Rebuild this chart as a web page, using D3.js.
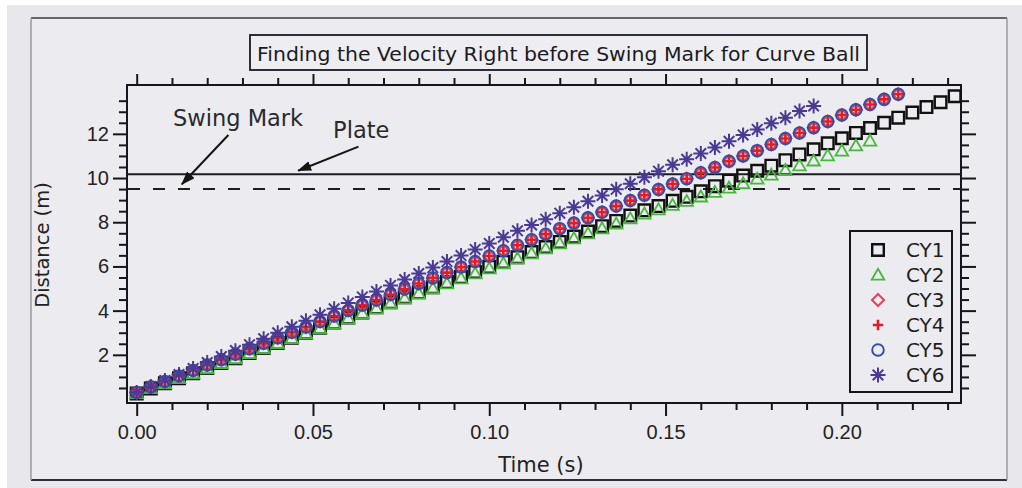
<!DOCTYPE html>
<html>
<head>
<meta charset="utf-8">
<script src="https://cdn.jsdelivr.net/npm/d3@7"></script>
<style>
  html, body { margin: 0; padding: 0; background: #ffffff; }
  svg { display: block; }
</style>
</head>
<body>
<script>
// sample times (s), one frame every 4 ms
const times = [0.000, 0.004, 0.008, 0.012, 0.016, 0.020, 0.024, 0.028, 0.032, 0.036,
               0.040, 0.044, 0.048, 0.052, 0.056, 0.060, 0.064, 0.068, 0.072, 0.076,
               0.080, 0.084, 0.088, 0.092, 0.096, 0.100, 0.104, 0.108, 0.112, 0.116,
               0.120, 0.124, 0.128, 0.132, 0.136, 0.140, 0.144, 0.148, 0.152, 0.156,
               0.160, 0.164, 0.168, 0.172, 0.176, 0.180, 0.184, 0.188, 0.192, 0.196,
               0.200, 0.204, 0.208, 0.212, 0.216, 0.220, 0.224, 0.228, 0.232];

// distances (m), one value per frame
const cy1 = [0.25, 0.48, 0.71, 0.94, 1.17, 1.40, 1.63, 1.85, 2.08, 2.31,
             2.54, 2.77, 3.00, 3.23, 3.46, 3.69, 3.92, 4.15, 4.38, 4.61,
             4.83, 5.06, 5.29, 5.52, 5.75, 5.98, 6.21, 6.42, 6.65, 6.88,
             7.11, 7.35, 7.58, 7.82, 8.06, 8.30, 8.54, 8.73, 8.97, 9.15,
             9.40, 9.63, 9.88, 10.11, 10.33, 10.56, 10.81, 11.07, 11.30, 11.57,
             11.80, 12.04, 12.26, 12.50, 12.73, 12.96, 13.21, 13.43, 13.70];
const cy2 = [0.25, 0.48, 0.70, 0.93, 1.15, 1.38, 1.61, 1.83, 2.06, 2.28,
             2.51, 2.74, 2.96, 3.19, 3.41, 3.64, 3.87, 4.09, 4.32, 4.54,
             4.77, 5.00, 5.22, 5.45, 5.67, 5.90, 6.13, 6.35, 6.58, 6.80,
             7.03, 7.26, 7.48, 7.71, 7.93, 8.16, 8.38, 8.57, 8.77, 8.95,
             9.15, 9.36, 9.55, 9.75, 9.96, 10.14, 10.35, 10.56, 10.78, 11.01,
             11.23, 11.46, 11.68];
const cy3 = [0.30, 0.55, 0.79, 1.04, 1.29, 1.54, 1.78, 2.03, 2.28, 2.52,
             2.77, 3.02, 3.26, 3.51, 3.76, 4.01, 4.25, 4.48, 4.73, 4.98,
             5.23, 5.48, 5.72, 5.97, 6.22, 6.47, 6.71, 6.96, 7.21, 7.46,
             7.71, 7.96, 8.20, 8.45, 8.73, 8.98, 9.22, 9.48, 9.73, 9.97,
             10.24, 10.48, 10.76, 11.00, 11.24, 11.52, 11.79, 12.04, 12.28, 12.56,
             12.85, 13.09, 13.33, 13.56, 13.79];
const cy4 = [0.30, 0.55, 0.79, 1.04, 1.29, 1.54, 1.78, 2.03, 2.28, 2.52,
             2.77, 3.02, 3.26, 3.51, 3.76, 4.01, 4.25, 4.48, 4.73, 4.98,
             5.23, 5.48, 5.72, 5.97, 6.22, 6.47, 6.71, 6.96, 7.21, 7.46,
             7.71, 7.96, 8.20, 8.45, 8.73, 8.98, 9.22, 9.48, 9.73, 9.97,
             10.24, 10.48, 10.76, 11.00, 11.24, 11.52, 11.79, 12.04, 12.28, 12.56,
             12.85, 13.09, 13.33, 13.56, 13.79];
const cy5 = [0.30, 0.55, 0.79, 1.04, 1.29, 1.54, 1.78, 2.03, 2.28, 2.52,
             2.77, 3.02, 3.26, 3.51, 3.76, 4.01, 4.25, 4.48, 4.73, 4.98,
             5.23, 5.48, 5.72, 5.97, 6.22, 6.47, 6.71, 6.96, 7.21, 7.46,
             7.71, 7.96, 8.20, 8.45, 8.73, 8.98, 9.22, 9.48, 9.73, 9.97,
             10.24, 10.48, 10.76, 11.00, 11.24, 11.52, 11.79, 12.04, 12.28, 12.56,
             12.85, 13.09, 13.33, 13.56, 13.79];
const cy6 = [0.30, 0.57, 0.84, 1.11, 1.38, 1.65, 1.92, 2.19, 2.46, 2.73,
             3.00, 3.27, 3.54, 3.81, 4.08, 4.35, 4.62, 4.87, 5.14, 5.41,
             5.68, 5.95, 6.22, 6.49, 6.77, 7.04, 7.32, 7.61, 7.88, 8.14,
             8.41, 8.68, 8.95, 9.21, 9.49, 9.74, 10.03, 10.31, 10.60, 10.85,
             11.11, 11.38, 11.66, 11.95, 12.20, 12.48, 12.73, 13.03, 13.26];

const seriesNames = ["CY1", "CY2", "CY3", "CY4", "CY5", "CY6"];
const seriesValues = [cy1, cy2, cy3, cy4, cy5, cy6];

// reference lines (m)
const plateDistance = 10.17;
const swingMarkDistance = 9.50;

const xMajorTicks = [0.00, 0.05, 0.10, 0.15, 0.20];
const yMajorTicks = [2, 4, 6, 8, 10, 12];

const W = 1022, H = 488;
const plot = {left: 127, right: 961, top: 85, bottom: 403};

// marker looks per series
const markerStyle = [
    {shape: "square",   color: "#111111", width: 2.4},
    {shape: "triangle", color: "#47b83c", width: 1.8},
    {shape: "diamond",  color: "#e2405e", width: 2.0},
    {shape: "plus",     color: "#e01e28", width: 2.6},
    {shape: "circle",   color: "#2f4fa8", width: 1.9},
    {shape: "asterisk", color: "#4a3a94", width: 2.0}
];

function markerPath(shape) {
    switch (shape) {
        case "square": return "M-5.8,-5.8H5.8V5.8H-5.8Z";
        case "triangle": return "M0,-6.3L6.3,4.7H-6.3Z";
        case "diamond": return "M0,-6L6,0L0,6L-6,0Z";
        case "plus": return "M-5.2,0H5.2M0,-5.2V5.2";
        case "circle": return "M5.8,0A5.8,5.8 0 1,1 -5.8,0A5.8,5.8 0 1,1 5.8,0Z";
        case "asterisk": return "M0,-7.5V7.5M-7.5,0H7.5M-5.3,-5.3L5.3,5.3M-5.3,5.3L5.3,-5.3";
    }
}

const svg = d3.select("body").append("svg")
    .attr("width", W).attr("height", H)
    .style("font-family", "'DejaVu Sans', sans-serif");

// scanned page background and chart frame
svg.append("rect").attr("x", 7).attr("y", 5).attr("width", W - 7).attr("height", H - 5)
    .attr("fill", "#e8e8ec");
svg.append("rect").attr("x", 31).attr("y", 18).attr("width", 976).attr("height", 462)
    .attr("fill", "#ececf0");
const frame = svg.append("g").attr("class", "frame");
frame.append("line").attr("x1", 31).attr("x2", 1007).attr("y1", 18).attr("y2", 18)
    .attr("stroke", "#3a3a40").attr("stroke-width", 1.5);
frame.append("line").attr("x1", 31).attr("x2", 1007).attr("y1", 480).attr("y2", 480)
    .attr("stroke", "#2e2e36").attr("stroke-width", 2);
frame.append("line").attr("x1", 31).attr("x2", 31).attr("y1", 18).attr("y2", 480)
    .attr("stroke", "#9a9aa2").attr("stroke-width", 1.5);
frame.append("line").attr("x1", 1007).attr("x2", 1007).attr("y1", 18).attr("y2", 480)
    .attr("stroke", "#9a9aa2").attr("stroke-width", 1.5);

// scales
const x = d3.scaleLinear().domain([-0.00275, 0.2338]).range([plot.left, plot.right]);
const y = d3.scaleLinear().domain([-0.18, 14.21]).range([plot.bottom, plot.top]);

const xMinor = d3.range(0, 23.5, 1).map(v => v / 100).filter(v => !xMajorTicks.some(m => Math.abs(m - v) < 1e-9));
const yMinor = d3.range(1, 28, 1).map(v => v / 2).filter(v => !yMajorTicks.includes(v));

const fmtX = d3.format(".2f");

function drawAxis(axisFn, scale, values, size, transformPx, withLabels, fmt) {
    const a = axisFn(scale).tickValues(values).tickSize(size).tickPadding(6)
        .tickFormat(withLabels ? fmt : "");
    const g = svg.append("g").attr("transform", transformPx).call(a);
    g.select(".domain").remove();
    g.selectAll(".tick line").attr("stroke", "#15151c").attr("stroke-width", 2);
    g.selectAll(".tick text").attr("fill", "#222").style("font-size", "20px");
    return g;
}

// x axes (bottom labelled, top mirror)
drawAxis(d3.axisBottom, x, xMajorTicks, 13, `translate(0,${plot.bottom})`, true, fmtX)
    .selectAll(".tick text").attr("dy", "0.85em");
drawAxis(d3.axisBottom, x, xMinor, 7, `translate(0,${plot.bottom})`, false);
drawAxis(d3.axisTop, x, xMajorTicks, 11, `translate(0,${plot.top})`, false);
drawAxis(d3.axisTop, x, xMinor, 7, `translate(0,${plot.top})`, false);

// y axes (left labelled, right mirror)
drawAxis(d3.axisLeft, y, yMajorTicks, 14, `translate(${plot.left},0)`, true, d3.format("d"))
    .selectAll(".tick text").attr("x", -18);
drawAxis(d3.axisLeft, y, yMinor, 8, `translate(${plot.left},0)`, false);
drawAxis(d3.axisRight, y, yMajorTicks, 15, `translate(${plot.right},0)`, false);
drawAxis(d3.axisRight, y, yMinor, 8, `translate(${plot.right},0)`, false);

// plot border
svg.append("rect")
    .attr("x", plot.left).attr("y", plot.top)
    .attr("width", plot.right - plot.left).attr("height", plot.bottom - plot.top)
    .attr("fill", "none").attr("stroke", "#15151f").attr("stroke-width", 2);

// plate (solid) and swing mark (dashed)
svg.append("line")
    .attr("x1", plot.left).attr("x2", plot.right)
    .attr("y1", y(plateDistance)).attr("y2", y(plateDistance))
    .attr("stroke", "#1d1d22").attr("stroke-width", 2);
svg.append("line")
    .attr("x1", plot.left + 1).attr("x2", plot.right)
    .attr("y1", y(swingMarkDistance)).attr("y2", y(swingMarkDistance))
    .attr("stroke", "#1d1d22").attr("stroke-width", 2)
    .attr("stroke-dasharray", "12,13");

// data markers
const marks = svg.append("g").attr("class", "marks");
seriesValues.forEach((vals, si) => {
    const st = markerStyle[si];
    marks.append("g").attr("class", seriesNames[si])
        .selectAll("path").data(vals).enter()
        .append("path")
        .attr("transform", (d, i) => `translate(${x(times[i])},${y(d)})`)
        .attr("d", markerPath(st.shape))
        .attr("fill", "none")
        .attr("stroke", st.color)
        .attr("stroke-width", st.width);
});

// annotations (data units)
const defs = svg.append("defs");
defs.append("marker").attr("id", "arrowhead")
    .attr("viewBox", "0 0 14 10").attr("refX", 13).attr("refY", 5)
    .attr("markerWidth", 14).attr("markerHeight", 10)
    .attr("markerUnits", "userSpaceOnUse").attr("orient", "auto")
    .append("path").attr("d", "M0,0L14,5L0,10Z").attr("fill", "#151515");

const annotations = [
    {label: "Swing Mark", tx: 0.0103, ty: 12.34, from: [0.0260, 11.95], to: [0.0128, 9.72]},
    {label: "Plate", tx: 0.0557, ty: 11.81, from: [0.0629, 11.42], to: [0.0458, 10.33]}
];
annotations.forEach(a => {
    svg.append("text")
        .attr("x", x(a.tx)).attr("y", y(a.ty))
        .attr("fill", "#2a2a2e").style("font-size", "22.5px")
        .text(a.label);
    svg.append("line")
        .attr("x1", x(a.from[0])).attr("y1", y(a.from[1]))
        .attr("x2", x(a.to[0])).attr("y2", y(a.to[1]))
        .attr("stroke", "#151515").attr("stroke-width", 2)
        .attr("marker-end", "url(#arrowhead)");
});

// title box
svg.append("rect").attr("x", 250).attr("y", 35).attr("width", 617).attr("height", 35)
    .attr("fill", "#eeeef2").attr("stroke", "#1a1a22").attr("stroke-width", 1.8);
svg.append("text")
    .attr("x", 257).attr("y", 61)
    .attr("textLength", 603).attr("lengthAdjust", "spacingAndGlyphs")
    .attr("fill", "#1b1b1f").style("font-size", "20px")
    .text("Finding the Velocity Right before Swing Mark for Curve Ball");

// axis titles
svg.append("text")
    .attr("x", 541).attr("y", 472)
    .attr("text-anchor", "middle").attr("fill", "#222").style("font-size", "21px")
    .text("Time (s)");
svg.append("text")
    .attr("transform", "translate(42,245) rotate(-90)")
    .attr("text-anchor", "middle").attr("dy", "0.36em")
    .attr("fill", "#222").style("font-size", "19.5px")
    .text("Distance (m)");

// legend
const legend = svg.append("g").attr("class", "legend")
    .attr("transform", `translate(${plot.right - 111},231)`);
legend.append("rect").attr("width", 102).attr("height", 161)
    .attr("fill", "#ececf0").attr("stroke", "#15151c").attr("stroke-width", 2);
seriesNames.forEach((name, i) => {
    const row = legend.append("g").attr("transform", `translate(0,${19 + i * 25})`);
    row.append("path")
        .attr("transform", "translate(28,0)")
        .attr("d", markerPath(markerStyle[i].shape))
        .attr("fill", "none")
        .attr("stroke", markerStyle[i].color)
        .attr("stroke-width", markerStyle[i].width);
    row.append("text").attr("x", 56).attr("dy", "0.36em")
        .attr("fill", "#1e1e22").style("font-size", "20px")
        .text(name);
});
</script>
</body>
</html>
